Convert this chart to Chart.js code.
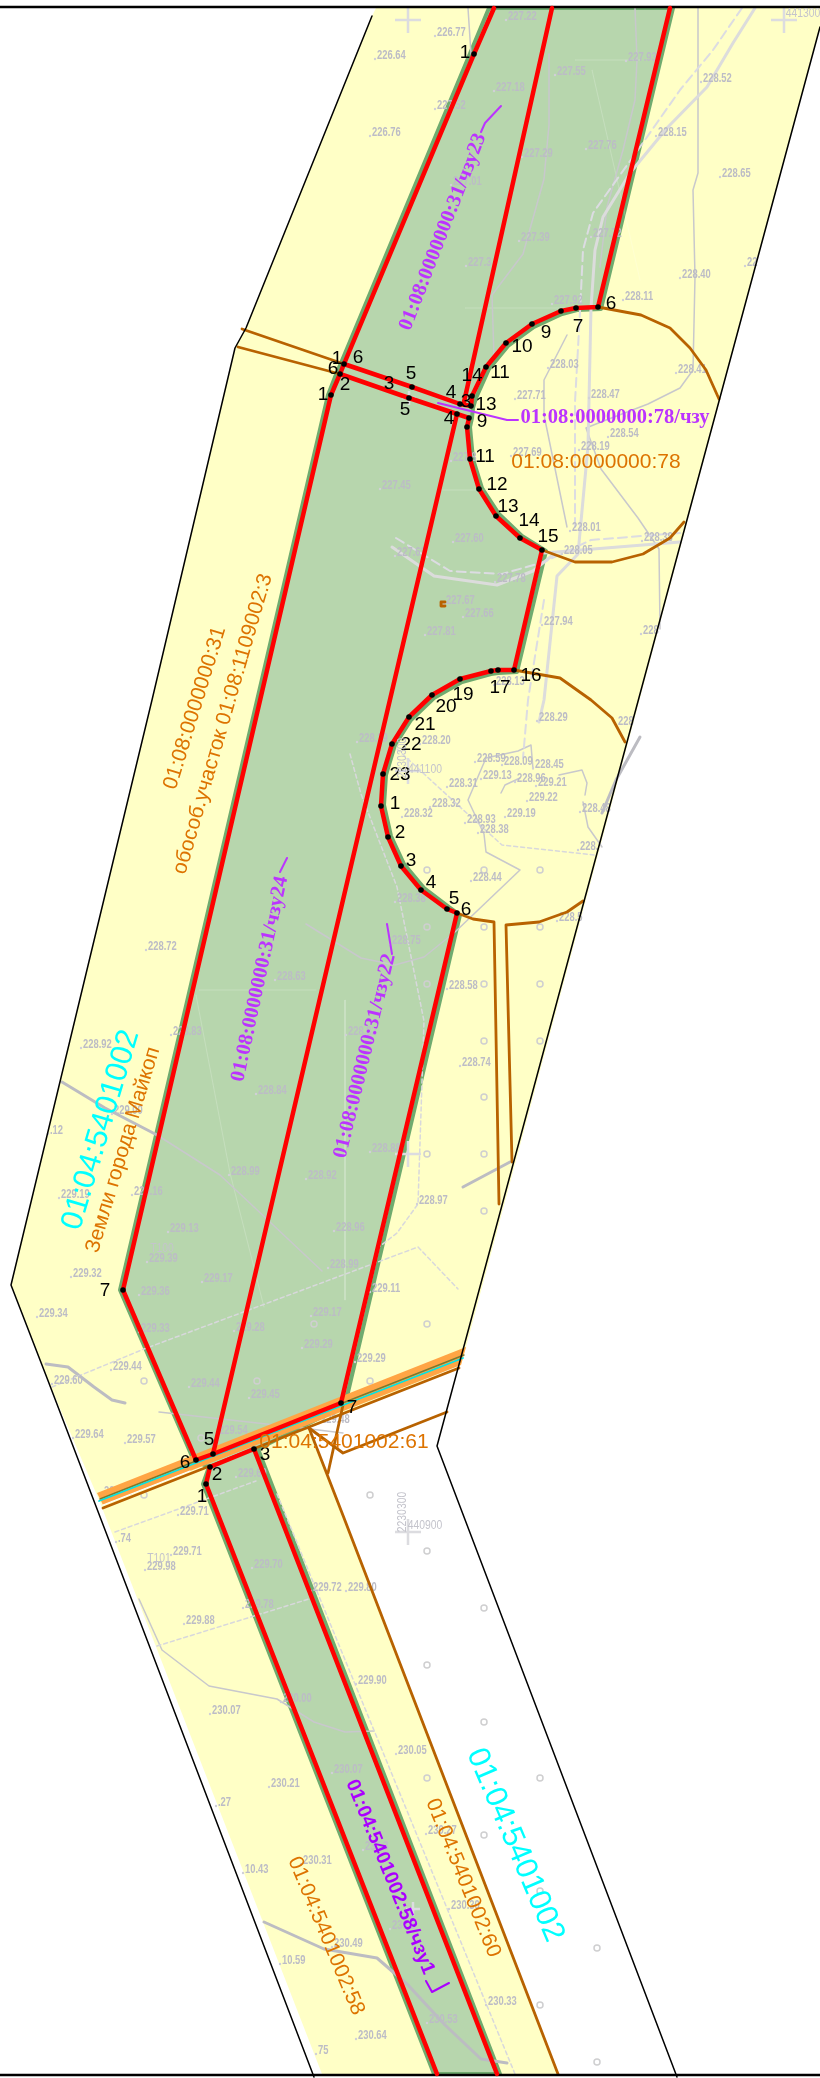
<!DOCTYPE html>
<html lang="en">
<head>
  <meta charset="UTF-8" />
  <title>01:04:5401002</title>
  <script src="https://cdn.jsdelivr.net/npm/chart.js"></script>
  <style>
    html, body { margin: 0; padding: 0; background: #fff; }
    canvas { display: block; }
  </style>
</head>
<body>
  <canvas id="planChart" width="820" height="2078"></canvas>

  <script>
    // land and strip outlines
    const landArea = [[376,8],[820,8],[820,27],[466,1347],[461,1365],[309,1428],[558,2074],[322,2074],[99,1500],[47,1378],[11,1285],[152,700],[235,348],[246,328],[372,16]];
    const stripArea = [[489,8],[673,8],[601,309],[577,310],[562,314],[534,327],[508,346],[489,369],[476,398],[473,408],[472,418],[470,427],[473,459],[482,488],[499,514],[522,536],[546,551],[517,672],[498,673],[491,674],[462,682],[434,698],[411,720],[395,745],[386,775],[384,805],[391,836],[404,864],[424,888],[449,907],[460,915],[345,1405],[258,1449],[500,2074],[434,2074],[203,1484],[209,1467],[194,1461],[120,1290],[328,395],[337,372],[341,363]];
    const roadBand = [[97,1493],[466,1347],[461,1365],[103,1505]];

    // red boundaries
    const redLeftTop = [[494,8],[474,54],[344,364]];
    const redMiddleTop = [[552,8],[464,402]];
    const redRightTop = [[670,8],[598,307],[576,308],[561,311],[532,324],[506,343],[486,367],[472,396],[471,406]];
    const redCrossUpper = [[344,364],[412,387],[460,404],[471,406]];
    const redCrossLower = [[340,374],[409,398],[457,414],[469,418],[467,427],[470,459],[479,489],[496,516],[520,538],[542,550],[514,670],[498,670],[491,671],[460,679],[432,695],[409,717],[392,744],[383,774],[381,806],[388,837],[401,866],[421,890],[447,909],[457,913],[341,1403]];
    const redLeftLong = [[344,364],[340,374],[331,395],[123,1290],[196,1460]];
    const redMiddleLong = [[457,414],[213,1454]];
    const redRoadUpper = [[196,1460],[213,1454],[341,1403]];
    const redRoadLower = [[206,1484],[210,1467],[254,1449],[497,2074]];
    const redBottomLeft = [[206,1484],[437,2074]];

    // brown parcel lines
    const brownCrossA = [[242,329],[344,364]];
    const brownCrossB = [[238,347],[340,374]];
    const brownUpperCircleA = [[598,307],[641,315],[670,328],[690,348],[706,370],[719,399]];
    const brownUpperCircleB = [[542,550],[575,562],[612,562],[643,554],[670,538],[684,522]];
    const brownLowerCircleA = [[514,670],[560,678],[591,700],[612,718],[625,742]];
    const brownLowerCircleB = [[457,913],[473,919],[494,922],[499,1204]];
    const brownLowerCircleC = [[512,1162],[506,925],[539,922],[567,912],[583,901]];
    const brownRoadEdge = [[103,1508],[459,1368]];
    const brownRoadMid = [[100,1499],[464,1355]];
    const cyanRoadMid = [[99,1501],[463,1358]];
    const whiteRoadSliver = [[103,1505],[190,1471]];
    const brownParcel = [[309,1428],[344,1518],[558,2074]];
    const brownParcelB = [[343,1405],[328,1473]];
    const brownParcelC = [[309,1428],[343,1453],[447,1412]];
    const brownSpot = [[445,602],[441,602],[441,606],[445,606]];

    // black boundary
    const frameTop = [[0,7],[820,7]];
    const frameBottom = [[0,2075],[820,2075]];
    const frameLeft = [[372,16],[246,328],[235,348],[152,700],[11,1285],[47,1378],[314,2077]];
    const frameRight = [[820,27],[437,1446],[677,2077]];

    // grey survey lines
    const faintLines = [
      [[199,990],[316,990]],
      [[196,995],[230,1173],[264,1307]],
      [[465,308],[580,308]],
      [[345,1000],[345,1300]],
      [[440,490],[500,490]],
      [[575,60],[640,60]],
      [[592,70],[640,280]]
    ];
    const greyThin = [
      [[698,8],[698,173],[693,190],[695,277],[693,370],[680,388],[648,404],[601,422],[586,428],[601,469],[638,518],[659,549],[660,629]],
      [[549,54],[549,125],[544,179],[523,254],[492,295],[494,357]],
      [[635,8],[637,60],[635,100],[623,150],[607,207],[600,267]],
      [[468,8],[471,54]],
      [[567,335],[544,380],[544,415],[567,527]],
      [[306,924],[361,958],[395,965],[424,957],[455,932],[520,870],[486,852],[484,834],[468,800],[486,758],[518,751],[531,745],[533,769]],
      [[157,1135],[220,1175],[322,1271]],
      [[159,1412],[302,1428],[343,1433]],
      [[139,1599],[162,1650],[209,1686],[277,1699],[314,1722],[345,1732],[374,1731]],
      [[559,775],[582,770],[587,783],[585,795]],
      [[583,802],[588,827],[602,847]],
      [[501,793],[505,785],[520,778]]
    ];
    const greyThick = [
      [[62,1082],[105,1108],[157,1135]],
      [[463,1187],[510,1162]],
      [[46,1364],[68,1367],[94,1387],[112,1400],[125,1403]],
      [[264,1922],[324,1949],[377,1958],[408,1985],[445,2025],[481,2059],[507,2063]],
      [[602,813],[616,780],[640,737]]
    ];
    const lightThick = [
      [[755,8],[733,43],[707,87],[667,128],[630,173],[603,217],[595,250],[591,308],[588,446],[578,554],[557,576],[544,700],[539,722]],
      [[392,547],[434,576],[497,585],[533,571],[554,554]],
      [[544,553],[680,542]]
    ];
    const dashedLight = [
      [[742,8],[713,50],[680,90],[640,147],[593,213],[583,250],[580,312],[575,402],[575,530]],
      [[396,538],[450,571],[502,574],[544,562],[591,540],[680,533]],
      [[544,600],[528,700],[523,758]]
    ];
    const dashedFine = [
      [[350,754],[361,794],[397,887],[424,1021],[418,1204],[397,1233],[379,1247]],
      [[397,749],[460,807],[502,845],[594,855]],
      [[157,1646],[309,1599]],
      [[115,1532],[256,1481]],
      [[52,1387],[144,1349],[418,1247],[458,1289]],
      [[277,1494],[515,2074]]
    ];
    const surveyCrosses = [[408,20],[784,20],[408,771],[408,1154],[408,1532]];
    const smallCrosses = [[409,398],[413,1909]];
    const surveyRings = [[427,870],[484,870],[540,870],[427,927],[484,927],[540,927],[427,984],[484,984],[540,984],[484,1041],[540,1041],[484,1097],[427,1154],[484,1154],[484,1211],[427,1324],[314,1324],[370,1381],[257,1381],[144,1381],[201,1438],[144,1495],[370,1495],[427,1551],[484,1608],[427,1665],[484,1722],[427,1778],[540,1778],[484,1835],[540,1891],[597,1948],[540,2005],[597,2062]];

    // spot heights
    const spotPoints = [[435,36],[506,20],[375,59],[626,61],[555,75],[701,82],[494,91],[435,109],[370,136],[656,136],[586,149],[522,157],[720,177],[451,185],[519,241],[591,237],[466,266],[680,278],[745,266],[552,304],[623,300],[548,368],[676,373],[515,399],[589,398],[608,437],[579,450],[511,456],[451,461],[380,489],[570,531],[642,541],[453,542],[562,554],[495,582],[395,556],[444,604],[463,617],[542,625],[425,635],[641,634],[494,685],[537,721],[616,725],[357,742],[420,744],[475,762],[502,765],[533,768],[481,779],[515,782],[447,787],[536,786],[527,801],[430,807],[402,817],[580,812],[505,817],[465,823],[478,833],[578,850],[471,881],[395,902],[557,921],[390,944],[146,950],[275,980],[447,989],[171,1035],[346,1035],[81,1048],[460,1066],[256,1094],[112,1114],[48,1134],[370,1152],[229,1175],[306,1179],[59,1198],[132,1195],[417,1204],[168,1232],[334,1231],[147,1262],[328,1268],[71,1277],[202,1282],[139,1295],[370,1292],[37,1317],[311,1316],[139,1332],[234,1331],[302,1348],[355,1362],[111,1370],[52,1384],[189,1387],[249,1398],[73,1438],[125,1443],[217,1434],[319,1423],[236,1477],[102,1495],[178,1515],[116,1542],[171,1555],[145,1570],[252,1568],[311,1591],[346,1591],[243,1608],[184,1624],[356,1684],[281,1702],[210,1714],[396,1754],[332,1773],[269,1787],[216,1806],[426,1834],[301,1864],[243,1873],[363,1850],[449,1909],[332,1947],[390,1929],[280,1964],[486,2005],[427,2023],[356,2039],[316,2054]];
    const spotTexts = ['226.77','227.22','226.64','227.93','227.55','228.52','227.18','227.52','226.76','228.15','227.76','227.29','228.65','227.01','227.39','227.72','227.3','228.40','22','227.92','228.11','228.03','228.41','227.71','228.47','228.54','228.19','227.69','227.8','227.45','228.01','228.38','227.60','228.05','227.78','227.61','227.67','227.66','227.94','227.81','228','228.13','228.29','228','228.19','228.20','228.59','228.09','228.45','229.13','228.96','228.31','229.21','229.22','228.32','228.32','228.48','229.19','228.93','228.38','228.','228.44','228.38','228.5','228.75','228.72','228.63','228.58','228.83','228.82','228.92','228.74','228.84','229.00','.12','228.88','228.99','228.92','229.19','229.16','228.97','229.13','228.96','229.39','228.99','229.32','229.17','229.36','229.11','229.34','229.17','229.33','229.28','229.29','229.29','229.44','229.60','229.44','229.45','229.64','229.57','229.54','229.48','229.69','229.66','229.71','.74','229.71','229.98','229.70','229.72','229.80','229.78','229.88','229.90','230.00','230.07','230.05','230.07','230.21','.27','230.27','230.31','10.43','230.3','230.30','230.49','230.5','10.59','230.33','230.53','230.64','75'];

    // vertex dots and their numbers
    const vertexDots = [[474,54],[598,307],[576,308],[561,311],[532,324],[506,343],[486,367],[472,396],[344,364],[340,374],[331,395],[412,387],[409,398],[460,404],[471,406],[457,414],[469,418],[467,427],[470,459],[479,489],[496,516],[520,538],[542,550],[514,670],[498,670],[491,671],[460,679],[432,695],[409,717],[392,744],[383,774],[381,806],[388,837],[401,866],[421,890],[447,909],[457,913],[123,1290],[341,1403],[213,1454],[196,1460],[254,1449],[210,1467],[206,1484]];
    const vertexNumbers = ['1','6','7','9','10','11','14','1','6','6','2','1','3','5','5','4','3','13','4','9','11','12','13','14','15','16','17','19','20','21','22','23','1','2','3','4','5','6','7','7','5','6','3','2','1'];
    const vertexNumberAt = [[465,53],[611,304],[578,327],[546,333],[522,347],[500,373],[472,376],[337,359],[358,358],[333,369],[345,385],[323,395],[389,384],[411,374],[405,410],[451,393],[466,402],[486,405],[449,419],[482,422],[485,457],[497,485],[508,507],[529,521],[548,537],[531,676],[500,688],[463,695],[446,707],[425,725],[411,745],[400,775],[395,804],[400,833],[411,861],[431,883],[454,899],[466,910],[105,1291],[352,1408],[209,1440],[185,1463],[265,1455],[217,1475],[202,1497]];

    // leaders for the part labels
    const leaders = [
      [[481,132],[485,123],[501,106]],
      [[280,872],[287,858]],
      [[392,954],[387,924]],
      [[518,420],[507,420],[438,403]],
      [[426,1981],[432,1992],[449,1983]]
    ];

    // rotated and plain captions
    const captionTexts = ['01:08:0000000:31/чзу23','01:08:0000000:31/чзу24','01:08:0000000:31/чзу22','01:08:0000000:78/чзу','01:04:5401002:58/чзу1','01:08:0000000:78','01:08:0000000:31','обособ.участок 01:08:1109002:3','Земли города Майкоп','01:04:5401002','01:04:5401002','01:04:5401002:60','01:04:5401002:58','01:04:5401002:61','T100','T101','441100','440900','441300','2230300','2230300'];
    const captionAt = [[443,232],[260,979],[365,1056],[615,418],[390,1877],[596,462],[195,708],[223,724],[123,1150],[101,1130],[515,1845],[463,1878],[326,1936],[344,1442],[162,1248],[159,1558],[425,769],[425,1525],[803,13],[402,1512],[402,758]];
    const captionAngle = [-68.8,-77.8,-76.3,0,68,0,-72.8,-73.8,-73.2,-73.4,67,68,67.4,0,0,0,0,0,0,-90,-90];
    const captionStyle = ['p','p','p','p','q','o','o','o','o','c','c','o','o','o','g','g','g','g','g','g','g'];

    const styles = {
      p: { font: 'bold 20.5px "Liberation Serif", serif', color: '#bb33ff', sx: 1 },
      q: { font: 'bold 19.5px "Liberation Sans", sans-serif', color: '#aa00ff', sx: 1 },
      o: { font: '21px "Liberation Sans", sans-serif', color: '#dd7300', sx: 1 },
      c: { font: '31px "Liberation Sans", sans-serif', color: '#00ffff', sx: 1 },
      g: { font: '13px "Liberation Sans", sans-serif', color: '#c4c4cc', sx: 0.8 }
    };

    const toPoints = arr => arr.map(p => ({ x: p[0], y: p[1] }));
    const datasets = [];

    function addLine(arr, color, width, extra) {
      datasets.push(Object.assign({
        data: toPoints(arr), showLine: true, borderColor: color, borderWidth: width,
        pointRadius: 0, tension: 0, fill: false, borderJoinStyle: 'round', borderCapStyle: 'round'
      }, extra || {}));
    }
    function addShape(arr, color, edge, width) {
      addLine(arr.concat([arr[0]]), edge || color, width || 0, { fill: 'shape', backgroundColor: color });
    }

    addShape(landArea, '#ffffc6');
    addShape(stripArea, '#b7d6ad', '#6fab6f', 4);
    faintLines.forEach(l => addLine(l, 'rgba(255,255,255,0.2)', 1));
    greyThin.forEach(l => addLine(l, '#c8c8cc', 1.5));
    greyThick.forEach(l => addLine(l, '#bcbcc2', 3));
    lightThick.forEach(l => addLine(l, '#dcdcdc', 3));
    dashedLight.forEach(l => addLine(l, '#dcdce2', 2, { borderDash: [9, 5] }));
    dashedFine.forEach(l => addLine(l, '#d8d8dc', 1.5, { borderDash: [4, 3] }));
    datasets.push({ data: toPoints(surveyCrosses), pointStyle: 'cross', pointRadius: 13, pointBorderColor: '#dcdce0', pointBorderWidth: 2.5, showLine: false });
    datasets.push({ data: toPoints(smallCrosses), pointStyle: 'cross', pointRadius: 7, pointBorderColor: '#dcdce0', pointBorderWidth: 2.5, showLine: false });
    datasets.push({ data: toPoints(surveyRings), pointStyle: 'circle', pointRadius: 3, pointBackgroundColor: 'rgba(0,0,0,0)', pointBorderColor: '#cfcfd0', pointBorderWidth: 1.5, showLine: false });
    datasets.push({ label: 'spots', data: toPoints(spotPoints), pointStyle: 'circle', pointRadius: 1.2, pointBackgroundColor: '#d0d0d8', pointBorderWidth: 0, showLine: false });

    addShape(roadBand, '#ffa545');
    [brownCrossA, brownCrossB, brownUpperCircleA, brownUpperCircleB, brownLowerCircleA, brownLowerCircleB, brownLowerCircleC, brownRoadEdge, brownParcel, brownParcelB, brownParcelC, brownSpot]
      .forEach(l => addLine(l, '#b86200', 2.8));
    addLine(brownRoadMid, '#7a7a30', 1.5);
    addLine(cyanRoadMid, '#00e5e5', 1.8);
    addLine(whiteRoadSliver, '#ffffff', 1.2);

    [frameTop, frameBottom].forEach(l => addLine(l, '#000', 2.5));
    [frameLeft, frameRight].forEach(l => addLine(l, '#000', 1.5));

    [redLeftTop, redMiddleTop, redRightTop, redCrossUpper, redCrossLower, redLeftLong, redMiddleLong, redRoadUpper, redRoadLower, redBottomLeft]
      .forEach(l => addLine(l, '#ff0000', 4.5));

    leaders.forEach((l, i) => addLine(l, i === 4 ? '#aa00ff' : '#bb33ff', 2));

    datasets.push({ data: toPoints(vertexDots), pointStyle: 'circle', pointRadius: 2.8, pointBackgroundColor: '#000', pointBorderWidth: 0, showLine: false });

    // spot heights go in under the red lines, captions on top of everything
    const planText = {
      id: 'planText',
      afterDatasetDraw(chart, args) {
        if (chart.data.datasets[args.index].label !== 'spots') return;
        const ctx = chart.ctx, xs = chart.scales.x, ys = chart.scales.y;
        ctx.save();
        ctx.font = 'bold 12.5px "Liberation Sans", sans-serif';
        ctx.fillStyle = '#bcbcc6';
        ctx.textBaseline = 'middle';
        spotTexts.forEach((t, i) => {
          ctx.save();
          ctx.translate(xs.getPixelForValue(spotPoints[i][0]) + 2, ys.getPixelForValue(spotPoints[i][1]) - 3);
          ctx.scale(0.75, 1);
          ctx.fillText(t, 0, 0);
          ctx.restore();
        });
        ctx.restore();
      },
      afterDatasetsDraw(chart) {
        const ctx = chart.ctx, xs = chart.scales.x, ys = chart.scales.y;
        ctx.save();
        ctx.textAlign = 'center';
        ctx.textBaseline = 'middle';
        ctx.font = '19px "Liberation Sans", sans-serif';
        ctx.fillStyle = '#000';
        vertexNumbers.forEach((t, i) => ctx.fillText(t, xs.getPixelForValue(vertexNumberAt[i][0]), ys.getPixelForValue(vertexNumberAt[i][1])));
        captionTexts.forEach((t, i) => {
          const s = styles[captionStyle[i]];
          ctx.save();
          ctx.translate(xs.getPixelForValue(captionAt[i][0]), ys.getPixelForValue(captionAt[i][1]));
          ctx.rotate(captionAngle[i] * Math.PI / 180);
          ctx.scale(s.sx, 1);
          ctx.font = s.font;
          ctx.fillStyle = s.color;
          ctx.fillText(t, 0, 0);
          ctx.restore();
        });
        ctx.restore();
      }
    };

    new Chart(document.getElementById('planChart').getContext('2d'), {
      type: 'scatter',
      data: { datasets: datasets.reverse() },
      options: {
        responsive: false,
        animation: false,
        devicePixelRatio: 1,
        layout: { padding: 0, autoPadding: false },
        plugins: { legend: { display: false }, tooltip: { enabled: false } },
        scales: {
          x: { type: 'linear', min: 0, max: 820, display: false },
          y: { type: 'linear', min: 0, max: 2078, reverse: true, display: false }
        }
      },
      plugins: [planText]
    });
  </script>
</body>
</html>
